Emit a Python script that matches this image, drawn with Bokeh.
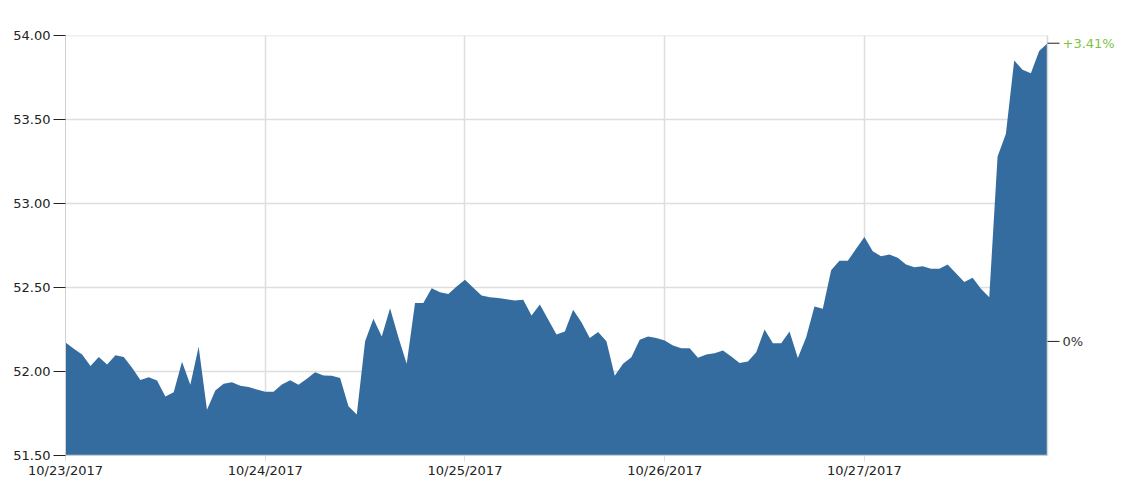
import pandas as pd
from bokeh.plotting import figure
from bokeh.models import (FixedTicker, DatetimeTickFormatter,
                          NumeralTickFormatter, Label, Range1d)
from bokeh.embed import file_html
from bokeh.resources import INLINE

start_time = "2017-10-23 00:00"
prices = [
    52.173, 52.135, 52.101, 52.032, 52.086, 52.042, 52.097, 52.087, 52.022, 51.950,
    51.966, 51.946, 51.851, 51.877, 52.058, 51.921, 52.147, 51.772, 51.887, 51.927,
    51.936, 51.915, 51.907, 51.893, 51.879, 51.879, 51.923, 51.948, 51.921, 51.957,
    51.996, 51.976, 51.974, 51.962, 51.793, 51.744, 52.180, 52.314, 52.208, 52.377,
    52.204, 52.046, 52.407, 52.407, 52.496, 52.472, 52.462, 52.506, 52.546, 52.498,
    52.452, 52.442, 52.438, 52.430, 52.423, 52.427, 52.333, 52.399, 52.310, 52.220,
    52.238, 52.367, 52.293, 52.200, 52.235, 52.180, 51.974, 52.046, 52.085, 52.189,
    52.208, 52.200, 52.185, 52.155, 52.139, 52.139, 52.082, 52.101, 52.109, 52.125,
    52.089, 52.050, 52.060, 52.115, 52.250, 52.168, 52.168, 52.238, 52.080, 52.204,
    52.387, 52.373, 52.603, 52.659, 52.659, 52.730, 52.800, 52.716, 52.686, 52.696,
    52.677, 52.637, 52.621, 52.627, 52.611, 52.611, 52.637, 52.585, 52.532, 52.558,
    52.492, 52.442, 53.280, 53.415, 53.851, 53.796, 53.776, 53.907, 53.954,
]
day_ticks = ["2017-10-23", "2017-10-24", "2017-10-25", "2017-10-26", "2017-10-27"]
prev_close = 52.179
pct_values = [prev_close, prices[-1]]
pct_labels = ["0%", "+3.41%"]
pct_colors = ["#333333", "#7cc243"]
y_ticks = [51.5, 52.0, 52.5, 53.0, 53.5, 54.0]
y_min, y_max = 51.5, 54.0

times = pd.date_range(start_time, periods=len(prices), freq="h")
day_ms = [pd.Timestamp(d).value / 1e6 for d in day_ticks]

FONT = "DejaVu Sans"
W, H = 1121, 483
LEFT, TOP, RIGHT_EDGE, BOTTOM_EDGE = 65, 35, 1047, 455

t0, t1 = times[0], times[-1]
ms_per_px = (t1 - t0).total_seconds() * 1000 / (RIGHT_EDGE - LEFT)
x_end = t0 + (t1 - t0) * (W - LEFT) / (RIGHT_EDGE - LEFT)

p = figure(width=W, height=H, x_axis_type="datetime",
           output_backend="svg", toolbar_location=None,
           min_border_left=LEFT, min_border_right=0, min_border_top=TOP,
           min_border_bottom=H - BOTTOM_EDGE,
           x_range=Range1d(t0, x_end), y_range=Range1d(y_min, y_max))
p.outline_line_color = None
p.background_fill_color = "white"
p.ygrid.grid_line_color = None

# horizontal grid lines limited to the data span
p.segment(x0=[t0] * len(y_ticks), x1=[t1] * len(y_ticks), y0=y_ticks, y1=y_ticks,
          line_color="#dedede", line_width=1.5)

p.varea(x=times, y1=[y_min] * len(prices), y2=prices,
        fill_color="#2d669b", fill_alpha=0.96)

# left axis
ya = p.yaxis[0]
ya.ticker = FixedTicker(ticks=y_ticks)
ya.formatter = NumeralTickFormatter(format="0.00")
ya.axis_line_color = "#d0d0d0"
ya.major_tick_line_color = "#222222"
ya.major_tick_out = 12
ya.major_tick_in = 0
ya.minor_tick_line_color = None
ya.major_label_standoff = 3
ya.major_label_text_font = FONT
ya.major_label_text_font_size = "13px"
ya.major_label_text_color = "#222222"

# bottom axis
xa = p.xaxis[0]
xa.ticker = FixedTicker(ticks=day_ms)
xa.formatter = DatetimeTickFormatter(days="%m/%d/%Y", months="%m/%d/%Y", hours="%m/%d/%Y")
xa.axis_line_color = None
xa.major_tick_line_color = "#e0e0e0"
xa.major_tick_out = 6
xa.major_tick_in = 0
xa.minor_tick_line_color = None
xa.major_label_standoff = 1
xa.major_label_text_font = FONT
xa.major_label_text_font_size = "13px"
xa.major_label_text_color = "#222222"
p.xgrid.ticker = FixedTicker(ticks=day_ms)
p.xgrid.grid_line_color = "#dedede"
p.xgrid.grid_line_width = 1.5

# bottom axis line and right axis (line, ticks, coloured labels)
p.segment(x0=[t0], x1=[t1], y0=[y_min], y1=[y_min], line_color="#d0d0d0", line_width=1.5)
p.segment(x0=[t1], x1=[t1], y0=[y_min], y1=[y_max], line_color="#d8d8d8", line_width=1.5)
tick_end = t1 + pd.Timedelta(milliseconds=12 * ms_per_px)
p.segment(x0=[t1] * len(pct_values), x1=[tick_end] * len(pct_values),
          y0=pct_values, y1=pct_values, line_color="#222222", line_width=1)
for v, lab, col in zip(pct_values, pct_labels, pct_colors):
    p.add_layout(Label(x=t1, y=v, x_offset=15, text=lab,
                       text_baseline="middle", text_align="left",
                       text_font=FONT, text_font_size="13px", text_color=col))

open("out.html", "w").write(file_html(p, INLINE))
